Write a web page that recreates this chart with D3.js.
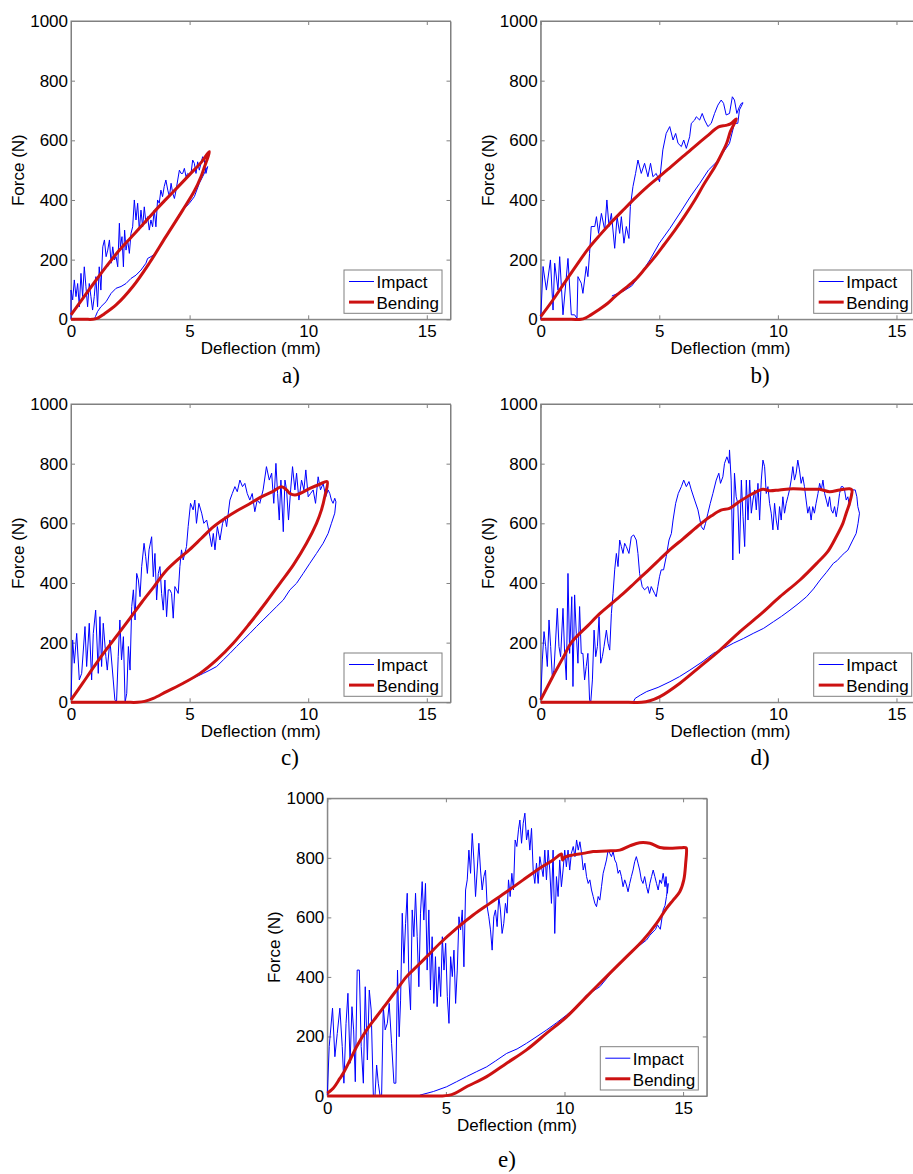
<!DOCTYPE html>
<html>
<head>
<meta charset="utf-8">
<script src="https://cdnjs.cloudflare.com/ajax/libs/d3/7.8.5/d3.min.js"></script>
<style>
    html, body { margin: 0; padding: 0; background: #fff; }
</style>
</head>
<body>
<div id="figure"></div>
<script>
// ticks / labels
var xTicks = [0, 5, 10, 15];
var yTicks = [0, 200, 400, 600, 800, 1000];
var legendLabels = ['Impact', 'Bending'];
var captions = ['a)', 'b)', 'c)', 'd)', 'e)'];

// all series are [deflection (mm), force (N)]
var impactA = [[0,0],[0,98],[0.07,65],[0.14,132],[0.21,76],[0.28,120],[0.35,42],[0.42,154],[0.49,76],[0.56,176],[0.63,109],[0.70,42],[0.77,120],[0.84,76],[0.91,31],[0.98,76],[1.05,143],[1.12,42],[1.19,176],[1.26,98],[1.34,243],[1.41,266],[1.48,210],[1.55,232],[1.62,266],[1.69,188],[1.76,243],[1.83,199],[1.9,210],[1.97,176],[2.04,322],[2.08,243],[2.15,277],[2.21,176],[2.26,299],[2.32,232],[2.39,266],[2.46,221],[2.53,288],[2.6,310],[2.67,400],[2.74,333],[2.81,389],[2.88,299],[2.95,366],[3.02,310],[3.09,377],[3.16,322],[3.23,344],[3.3,299],[3.37,333],[3.44,310],[3.51,366],[3.58,310],[3.65,400],[3.72,389],[3.79,433],[3.86,411],[3.93,445],[4.0,467],[4.08,433],[4.15,411],[4.22,456],[4.29,422],[4.36,405],[4.43,433],[4.5,467],[4.57,500],[4.64,489],[4.71,489],[4.78,506],[4.85,478],[4.92,489],[4.99,484],[5.06,489],[5.13,534],[5.2,523],[5.27,489],[5.34,528],[5.41,500],[5.48,523],[5.55,545],[5.62,534],[5.69,489],[5.76,512],
    [5.55,478],[5.41,456],[5.2,411],[4.99,389],[4.85,377],[4.64,361],[4.43,333],[4.29,310],[4.08,288],[3.93,266],[3.72,243],[3.58,221],[3.37,210],[3.23,204],[3.16,188],[2.95,165],[2.74,148],[2.53,137],[2.32,120],[2.11,110],[1.9,104],[1.69,87],[1.48,59],[1.26,42],[1.12,26],[1.03,9],[0.98,0]];
var bendingA = [[0,15],[0.5,70],[1,125],[1.5,178],[2,228],[2.5,272],[3,315],[3.5,360],[4,402],[4.5,443],[5,485],[5.5,527],[5.83,562],
    [5.6,505],[5.48,478],[5.2,430],[4.71,366],[4.0,277],[3.3,188],[2.6,109],[1.9,48],[1.4,18],[1.1,3],[0.9,0],[0.6,0],[0,0]];

var impactB = [[0,0],[0.1,177],[0.24,98],[0.41,199],[0.52,31],[0.59,188],[0.73,98],[0.8,210],[0.94,15],[1.15,204],[1.29,15],[1.43,15],[1.53,3],[1.57,143],[1.71,121],[1.78,87],[1.92,177],[1.99,143],[2.06,221],[2.13,311],[2.28,311],[2.35,344],[2.44,288],[2.56,355],[2.7,299],[2.79,400],[2.88,311],[2.98,355],[3.12,238],[3.22,344],[3.33,288],[3.4,344],[3.51,255],[3.61,311],[3.72,271],[3.78,378],[3.89,445],[4.0,489],[4.1,534],[4.24,489],[4.38,523],[4.52,478],[4.63,523],[4.73,478],[4.87,489],[5.01,461],[5.15,568],[5.29,623],[5.44,646],[5.58,601],[5.69,623],[5.79,590],[5.93,579],[6.03,601],[6.14,573],[6.28,612],[6.35,657],[6.49,668],[6.56,679],[6.7,668],[6.81,690],[6.91,668],[7.05,646],[7.19,657],[7.33,690],[7.47,718],[7.61,735],[7.71,724],[7.82,685],[7.96,690],[8.08,746],[8.17,735],[8.27,690],[8.38,713],[8.46,724],[8.53,726],
    [8.38,702],[8.31,657],[8.17,657],[7.96,590],[7.7,560],[7.45,530],[7.07,500],[6.7,455],[6.3,410],[5.9,360],[5.45,305],[5.0,255],[4.61,200],[4.2,150],[3.84,112],[3.5,95],[3.2,85],[3.0,78]];
var bendingB = [[0,9],[0.5,63],[1,122],[1.5,180],[2,236],[2.5,283],[3,327],[3.5,368],[4,408],[4.5,445],[5,478],[5.5,512],[6,546],[6.5,580],[7,613],[7.5,645],[7.8,650],[8,655],[8.25,672],
    [8.0,630],[7.84,590],[7.6,550],[7.35,512],[6.9,455],[6.5,400],[6.1,350],[5.66,299],[5.2,250],[4.82,210],[4.4,170],[3.98,132],[3.5,100],[3.13,76],[2.8,52],[2.43,31],[2.1,14],[1.9,5],[1.7,0],[1.3,0],[0,0]];

var impactC = [[0,8],[0.07,209],[0.14,131],[0.24,231],[0.35,75],[0.45,97],[0.59,254],[0.66,120],[0.77,265],[0.87,75],[0.94,231],[1.04,309],[1.15,97],[1.22,287],[1.29,120],[1.36,265],[1.47,153],[1.53,108],[1.64,209],[1.78,75],[1.85,8],[1.92,0],[1.99,153],[2.06,276],[2.13,142],[2.21,220],[2.28,0],[2.35,30],[2.42,187],[2.49,108],[2.56,321],[2.63,377],[2.7,276],[2.77,432],[2.84,410],[2.91,354],[2.98,455],[3.08,533],[3.15,488],[3.22,432],[3.29,511],[3.4,555],[3.47,421],[3.54,499],[3.61,343],[3.68,432],[3.75,455],[3.82,365],[3.89,309],[3.96,410],[4.03,287],[4.1,377],[4.17,377],[4.24,365],[4.31,282],[4.38,388],[4.45,377],[4.52,365],[4.59,455],[4.66,511],[4.73,477],[4.87,522],[4.94,589],[5.04,667],[5.15,645],[5.22,678],[5.29,600],[5.39,667],[5.51,634],[5.6,600],[5.72,611],[5.86,555],[5.93,522],[6.0,566],[6.07,511],[6.17,589],[6.28,544],[6.39,600],[6.49,622],[6.56,589],[6.7,678],[6.8,700],[6.91,723],[7.01,706],[7.12,745],[7.23,723],[7.33,734],[7.43,700],[7.54,678],[7.64,700],[7.75,639],[7.85,678],[7.96,667],[8.1,712],[8.24,790],[8.36,745],[8.46,768],[8.55,667],[8.64,801],[8.71,700],[8.78,611],[8.85,745],[8.95,572],[9.02,745],[9.09,712],[9.17,611],[9.26,712],[9.34,790],[9.44,712],[9.51,768],[9.61,678],[9.72,745],[9.82,712],[9.9,779],[10.0,689],[10.1,700],[10.21,712],[10.31,667],[10.42,756],[10.52,712],[10.63,734],[10.74,689],[10.84,712],[10.91,700],[10.98,678],[11.05,667],[11.12,684],[11.17,672],
    [11.12,634],[10.98,600],[10.84,566],[10.63,533],[10.35,499],[10.07,466],[9.79,432],[9.51,399],[9.23,377],[8.95,343],[8.67,321],[8.38,298],[8.1,276],[7.82,254],[7.54,231],[7.26,209],[6.98,187],[6.7,164],[6.42,142],[6.14,120],[5.86,108],[5.58,97],[5.29,86],[5.01,75],[4.73,64],[4.45,53],[4.17,41],[3.89,30],[3.61,19],[3.33,10],[3.05,2]];
var bendingC = [[0,8],[0.5,65],[1,123],[1.5,178],[2,230],[2.5,283],[3,337],[3.5,388],[4,440],[4.5,478],[5,512],[5.5,550],[6,588],[6.5,617],[7,642],[7.5,664],[8,688],[8.5,706],[8.88,723],[9.09,712],[9.23,700],[9.44,695],[9.65,700],[10.07,717],[10.49,731],[10.8,740],
    [10.7,690],[10.56,645],[10.35,600],[9.93,533],[9.37,460],[8.81,399],[8.24,337],[7.54,265],[6.84,198],[6.14,142],[5.44,97],[4.73,64],[4.03,36],[3.47,13],[3.1,3],[2.8,0],[2.3,0],[0,0]];

var impactD = [[0,8],[0.07,142],[0.14,237],[0.21,187],[0.28,120],[0.35,276],[0.42,187],[0.49,86],[0.56,108],[0.63,209],[0.7,315],[0.77,187],[0.84,153],[0.94,315],[1.01,164],[1.08,75],[1.15,432],[1.22,164],[1.31,354],[1.36,53],[1.43,360],[1.5,231],[1.57,131],[1.64,321],[1.71,164],[1.78,164],[1.85,75],[1.92,120],[1.99,164],[2.06,8],[2.11,0],[2.18,75],[2.25,242],[2.32,153],[2.39,187],[2.46,287],[2.53,131],[2.6,153],[2.67,187],[2.77,242],[2.84,198],[2.91,175],[2.98,298],[3.05,365],[3.12,444],[3.19,499],[3.26,455],[3.33,544],[3.4,522],[3.47,499],[3.54,533],[3.61,522],[3.72,499],[3.82,555],[3.92,561],[4.03,544],[4.1,499],[4.17,432],[4.28,388],[4.38,377],[4.52,388],[4.59,365],[4.66,388],[4.8,365],[4.87,354],[4.94,388],[5.01,421],[5.08,444],[5.18,444],[5.29,488],[5.41,544],[5.51,566],[5.58,611],[5.69,667],[5.8,700],[5.93,723],[6.03,745],[6.14,723],[6.25,740],[6.35,712],[6.49,678],[6.63,645],[6.77,589],[6.87,578],[6.95,600],[7.05,634],[7.15,667],[7.26,700],[7.4,745],[7.51,768],[7.58,734],[7.68,756],[7.75,801],[7.85,823],[7.94,801],[7.96,846],[8.03,745],[8.1,477],[8.17,768],[8.24,689],[8.31,667],[8.38,499],[8.46,745],[8.53,622],[8.6,522],[8.67,745],[8.74,611],[8.81,745],[8.88,634],[8.95,678],[9.02,712],[9.09,645],[9.16,734],[9.23,611],[9.3,745],[9.37,812],[9.44,790],[9.51,700],[9.58,723],[9.65,667],[9.72,634],[9.79,578],[9.86,667],[9.93,611],[10.0,578],[10.07,656],[10.14,611],[10.21,689],[10.28,634],[10.35,667],[10.42,689],[10.49,712],[10.56,745],[10.63,790],[10.7,745],[10.77,768],[10.84,812],[10.91,779],[10.98,734],[11.05,756],[11.12,723],[11.19,678],[11.26,634],[11.33,656],[11.4,611],[11.47,656],[11.54,634],[11.61,667],[11.69,700],[11.76,734],[11.83,712],[11.9,745],[11.97,700],[12.04,678],[12.11,656],[12.18,689],[12.25,645],[12.32,634],[12.39,656],[12.46,622],[12.53,656],[12.6,700],[12.67,723],[12.74,723],[12.81,712],[12.88,678],[12.95,689],[13.02,656],[13.09,700],[13.16,712],[13.26,712],[13.33,689],[13.37,656],[13.44,634],
    [13.38,600],[13.3,566],[13.16,544],[12.95,510],[12.8,500],[12.67,490],[12.5,475],[12.34,466],[12.05,436],[11.78,410],[11.5,380],[11.21,354],[10.85,330],[10.51,309],[10.15,288],[9.81,270],[9.4,248],[8.96,231],[8.55,214],[8.12,198],[7.7,180],[7.28,164],[6.8,135],[6.29,108],[5.85,86],[5.45,69],[4.95,50],[4.47,36],[4.2,24],[3.98,13],[3.9,0]];
var bendingD = [[0,8],[0.5,85],[1,158],[1.29,200],[2,258],[2.5,298],[3,332],[3.5,366],[3.96,400],[4.5,440],[5,478],[5.5,515],[6,548],[6.5,582],[6.77,600],[7.2,625],[7.6,644],[7.96,650],[8.38,673],[8.95,700],[9.37,714],[9.65,709],[10.07,712],[10.63,716],[11.19,714],[11.76,714],[12.18,706],[12.6,712],[13.02,716],[13.12,712],
    [13.02,667],[12.88,634],[12.74,600],[12.46,555],[12.1,505],[11.7,471],[10.93,410],[10.09,354],[9.24,293],[8.4,237],[7.56,175],[6.71,119],[5.87,64],[5.03,19],[4.6,5],[4.25,0],[3.7,0],[0,0]];

var impactE = [[0,3],[0.08,166],[0.22,295],[0.32,132],[0.42,210],[0.53,295],[0.63,166],[0.7,43],[0.79,244],[0.87,345],[0.96,110],[1.04,300],[1.11,222],[1.18,48],[1.26,423],[1.35,423],[1.43,166],[1.52,43],[1.6,367],[1.69,121],[1.77,356],[1.85,289],[1.94,3],[2.01,0],[2.08,104],[2.15,43],[2.22,3],[2.29,0],[2.36,300],[2.44,222],[2.53,244],[2.61,311],[2.71,177],[2.81,43],[2.89,43],[2.96,423],[3.03,199],[3.09,322],[3.16,614],[3.23,446],[3.3,580],[3.37,681],[3.44,390],[3.51,289],[3.58,625],[3.65,535],[3.72,681],[3.79,535],[3.86,367],[3.93,614],[4.0,720],[4.07,591],[4.14,714],[4.21,423],[4.28,625],[4.35,356],[4.42,535],[4.49,311],[4.56,468],[4.63,300],[4.71,434],[4.78,334],[4.85,535],[4.92,423],[4.99,513],[5.06,334],[5.13,244],[5.2,468],[5.27,401],[5.34,490],[5.41,311],[5.48,423],[5.55,602],[5.62,558],[5.69,625],[5.76,434],[5.83,692],[5.9,726],[5.97,826],[6.04,748],[6.11,882],[6.18,793],[6.25,670],[6.32,759],[6.39,849],[6.46,759],[6.53,692],[6.6,737],[6.67,759],[6.74,636],[6.81,602],[6.88,558],[6.95,490],[7.02,602],[7.09,625],[7.16,569],[7.23,670],[7.3,625],[7.37,546],[7.44,580],[7.51,647],[7.58,614],[7.64,726],[7.71,670],[7.78,748],[7.85,692],[7.92,860],[7.99,838],[8.06,894],[8.12,927],[8.19,849],[8.26,916],[8.33,950],[8.4,860],[8.47,894],[8.54,826],[8.61,899],[8.68,759],[8.75,714],[8.82,782],[8.89,714],[8.96,804],[9.03,770],[9.1,737],[9.17,826],[9.24,726],[9.31,826],[9.38,759],[9.45,647],[9.52,826],[9.59,546],[9.66,737],[9.73,670],[9.8,793],[9.87,703],[9.94,759],[10.01,826],[10.08,770],[10.15,826],[10.22,759],[10.29,815],[10.37,838],[10.44,804],[10.51,860],[10.58,826],[10.65,854],[10.72,815],[10.79,759],[10.86,782],[10.93,737],[11.0,714],[11.07,726],[11.14,692],[11.21,670],[11.28,647],[11.35,636],[11.42,670],[11.49,658],[11.56,703],[11.63,748],[11.7,770],[11.77,793],[11.84,826],[11.91,815],[11.98,804],[12.05,821],[12.12,793],[12.19,782],[12.26,748],[12.33,759],[12.4,737],[12.47,703],[12.54,726],[12.61,709],[12.68,686],[12.75,714],[12.82,737],[12.89,759],[12.96,787],[13.03,804],[13.1,782],[13.17,759],[13.24,726],[13.31,714],[13.38,737],[13.46,703],[13.53,681],[13.6,714],[13.67,737],[13.74,759],[13.81,737],[13.88,714],[13.95,692],[14.02,726],[14.09,714],[14.16,748],[14.2,726],[14.24,703],[14.28,737],[14.34,681],[14.37,714],
    [14.3,670],[14.24,640],[14.16,625],[14.04,560],[13.92,575],[13.84,560],[13.6,540],[13.46,524],[13.1,502],[12.76,479],[12.4,450],[12.05,423],[11.75,392],[11.49,367],[11.2,352],[10.93,339],[10.5,300],[10.09,272],[9.65,245],[9.25,222],[8.8,198],[8.4,177],[8.0,158],[7.56,143],[7.1,118],[6.72,98],[6.3,82],[5.87,65],[5.45,48],[5.03,31],[4.47,15],[3.91,3],[3.85,0]];
var bendingE = [[0,9],[0.25,26],[0.53,59],[0.67,76],[0.96,121],[1.24,166],[1.66,222],[2.08,267],[2.5,311],[2.92,356],[3.34,401],[3.76,434],[4.19,468],[4.75,513],[5.45,563],[6.15,608],[6.85,647],[7.56,686],[8.26,726],[8.96,765],[9.52,793],[9.8,810],[9.87,813],[9.92,793],[10.01,802],[10.37,810],[10.79,815],[11.21,821],[11.77,823],[12.33,826],[12.75,840],[13.17,851],[13.6,849],[14.02,835],[14.44,832],[14.86,834],[15.11,834],[15.14,832],
    [15.11,782],[15.03,726],[14.86,686],[14.58,658],[14.3,630],[13.88,580],[13.32,524],[12.62,468],[11.77,401],[10.93,334],[10.09,266],[9.25,211],[8.4,155],[7.56,110],[6.72,65],[5.87,31],[5.4,10],[5.1,2],[4.8,0],[4.3,0],[0,0]];

var impactSeries = [impactA, impactB, impactC, impactD, impactE];
var bendingSeries = [bendingA, bendingB, bendingC, bendingD, bendingE];

// where each panel sits on the page
var layout = [
    { left: 71,    top: 21,    capX: 291, capY: 383 },
    { left: 540.7, top: 21,    capX: 760, capY: 383 },
    { left: 71,    top: 404,   capX: 290, capY: 765 },
    { left: 540.7, top: 404,   capX: 760, capY: 765 },
    { left: 327.3, top: 798.3, capX: 507, capY: 1167 }
];

function ForceChart(params) {
    var attrs = {
        width: 379.5,
        height: 298.3,
        left: 0,
        top: 0,
        xMax: 16,
        yMax: 1000,
        tickLength: 4,
        axisColor: '#808080',
        impactColor: '#0000ff',
        bendingColor: '#cc1111',
        defaultFont: '"Liberation Sans", Arial, Helvetica, sans-serif',
        captionFont: '"Liberation Serif", "Times New Roman", serif',
        fontSize: 17,
        caption: '',
        captionX: 0,
        captionY: 0,
        impact: null,
        bending: null
    };

    var main = function (svg) {
        var x = d3.scaleLinear().domain([0, attrs.xMax]).range([0, attrs.width]);
        var y = d3.scaleLinear().domain([0, attrs.yMax]).range([attrs.height, 0]);
        var fmt = d3.format('d');

        var chart = svg.append('g')
            .attr('transform', 'translate(' + attrs.left + ',' + attrs.top + ')')
            .attr('font-family', attrs.defaultFont);

        // frame
        chart.append('rect')
            .attr('width', attrs.width)
            .attr('height', attrs.height)
            .attr('fill', '#fff')
            .attr('stroke', attrs.axisColor)
            .attr('stroke-width', 1);

        // axes, matlab style ticks pointing inward on all four sides
        chart.append('g').attr('transform', 'translate(0,' + attrs.height + ')')
            .call(d3.axisBottom(x).tickValues(xTicks).tickFormat(fmt).tickSize(-attrs.tickLength).tickSizeOuter(0).tickPadding(6));
        chart.append('g')
            .call(d3.axisLeft(y).tickValues(yTicks).tickFormat(fmt).tickSize(-attrs.tickLength).tickSizeOuter(0).tickPadding(3));
        chart.append('g')
            .call(d3.axisTop(x).tickValues(xTicks).tickSize(-attrs.tickLength).tickSizeOuter(0).tickFormat(''));
        chart.append('g').attr('transform', 'translate(' + attrs.width + ',0)')
            .call(d3.axisRight(y).tickValues(yTicks).tickSize(-attrs.tickLength).tickSizeOuter(0).tickFormat(''));

        chart.selectAll('.domain').attr('stroke', attrs.axisColor);
        chart.selectAll('.tick line').attr('stroke', attrs.axisColor);
        chart.selectAll('.tick text')
            .attr('fill', '#000')
            .attr('font-size', attrs.fontSize)
            .attr('font-family', attrs.defaultFont);

        // curves
        var line = d3.line()
            .x(d => x(d[0]))
            .y(d => y(d[1]));

        chart.append('path')
            .datum(attrs.impact)
            .attr('d', line)
            .attr('fill', 'none')
            .attr('stroke', attrs.impactColor)
            .attr('stroke-width', 1)
            .attr('stroke-linejoin', 'round');

        chart.append('path')
            .datum(attrs.bending)
            .attr('d', line.curve(d3.curveCatmullRom.alpha(0.5)))
            .attr('fill', 'none')
            .attr('stroke', attrs.bendingColor)
            .attr('stroke-width', 3)
            .attr('stroke-linejoin', 'round');

        // axis titles
        chart.append('text')
            .attr('x', attrs.width / 2)
            .attr('y', attrs.height + 35)
            .attr('text-anchor', 'middle')
            .attr('font-size', attrs.fontSize)
            .text('Deflection (mm)');

        chart.append('text')
            .attr('transform', 'translate(-47,' + (attrs.height / 2) + ') rotate(-90)')
            .attr('text-anchor', 'middle')
            .attr('font-size', attrs.fontSize)
            .text('Force (N)');

        // legend
        var lw = 98, lh = 43.3;
        var legend = chart.append('g')
            .attr('transform', 'translate(' + (attrs.width - 8.5 - lw) + ',' + (attrs.height - 6 - lh) + ')');

        legend.append('rect')
            .attr('width', lw)
            .attr('height', lh)
            .attr('fill', '#fff')
            .attr('stroke', attrs.axisColor);

        var items = legend.selectAll('g.item')
            .data(legendLabels)
            .enter().append('g')
            .attr('class', 'item')
            .attr('transform', (d, i) => 'translate(0,' + (i * 20.6) + ')');

        items.append('line')
            .attr('x1', 5).attr('x2', 30)
            .attr('y1', 11.5).attr('y2', 11.5)
            .attr('stroke', (d, i) => i ? attrs.bendingColor : attrs.impactColor)
            .attr('stroke-width', (d, i) => i ? 3 : 1);

        items.append('text')
            .attr('x', 32.5)
            .attr('y', 18.3)
            .attr('font-size', attrs.fontSize)
            .text(d => d);

        // caption under the panel
        svg.append('text')
            .attr('x', attrs.captionX)
            .attr('y', attrs.captionY)
            .attr('text-anchor', 'middle')
            .attr('font-family', attrs.captionFont)
            .attr('font-size', 23)
            .text(attrs.caption);
    };

    Object.keys(attrs).forEach(key => {
        main[key] = function (_) {
            if (!arguments.length) return attrs[key];
            attrs[key] = _;
            return main;
        };
    });

    return main;
}

var svg = d3.select('#figure').append('svg')
    .attr('width', 913)
    .attr('height', 1174)
    .style('display', 'block');

layout.forEach((p, i) => {
    ForceChart()
        .left(p.left)
        .top(p.top)
        .height(i === 4 ? 297.7 : 298.3)
        .caption(captions[i])
        .captionX(p.capX)
        .captionY(p.capY)
        .impact(impactSeries[i])
        .bending(bendingSeries[i])(svg);
});
</script>
</body>
</html>
